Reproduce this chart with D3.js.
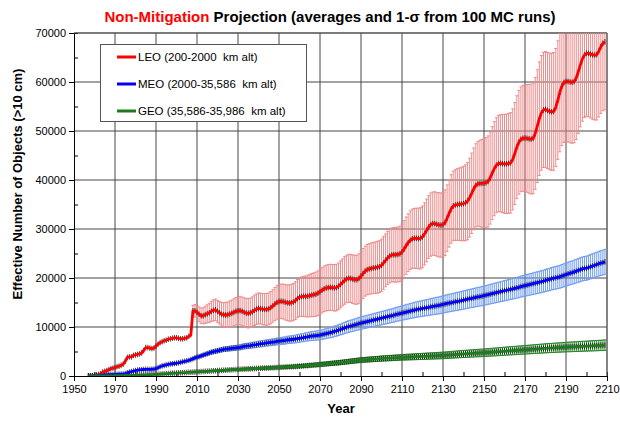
<!DOCTYPE html>
<html><head><meta charset="utf-8">
<script src="https://cdn.jsdelivr.net/npm/d3@7"></script>
<style>body{margin:0;background:#fff} svg{display:block;font-family:"Liberation Sans",Arial,sans-serif}</style>
</head><body><svg id="c" width="620" height="421"></svg>
<script>
const startYear = 1957;
const projStart = 2008;

const leoMean = [
0,20,60,120,200,300,450,800,950,1100,
1300,1500,1600,1700,1900,2000,2200,2400,3000,3800,
3900,3900,4200,4300,4400,4500,4700,5200,5800,5800,
5700,5600,5700,6100,6500,6800,7000,7200,7300,7500,
7600,7700,7800,7800,7700,7600,7600,7700,7800,8100,
8400,13300,13300,13000,12600,12300,12300,12500,12700,12900,
13200,13400,13500,13200,12900,12600,12500,12450,12500,12650,
12800,13000,13200,13300,13350,13200,13000,12850,12800,12900,
13100,13400,13650,13800,13750,13650,13600,13600,13700,13950,
14300,14700,15000,15200,15250,15200,15050,14950,14900,14950,
15100,15400,15800,16100,16200,16250,16250,16300,16400,16500,
16600,16700,16900,17200,17500,17800,17950,18050,18100,18050,
18000,18050,18300,18700,19100,19500,19800,19950,19900,19750,
19650,19650,19900,20400,20900,21400,21700,21850,21950,22050,
22100,22200,22300,22600,23100,23600,24100,24500,24700,24750,
24750,24800,24950,25300,25900,26600,27200,27700,28000,28100,
28100,28050,28100,28400,29000,29700,30400,30900,31100,31100,
30950,30850,30800,30900,31300,32200,33200,34100,34700,34900,
35000,35050,35100,35200,35350,35700,36400,37300,38200,38900,
39200,39300,39300,39350,39450,39700,40400,41400,42300,43000,
43350,43400,43350,43300,43300,43400,43500,44200,45400,46700,
47700,48300,48500,48550,48500,48400,48350,48500,49500,51000,
52500,53700,54300,54400,54200,54000,53900,54000,54800,56300,
57900,59200,59900,60100,60100,60000,59950,60100,60800,62100,
63500,64700,65500,65850,65850,65700,65550,65500,65600,66300,
67200,67900,68200];

const leoSigma = [
1100,1300,1400,1500,1550,1650,1750,1850,1950,2050,
2150,2200,2250,2300,2400,2450,2550,2600,2650,2700,
2750,2800,2850,2900,2900,2950,2950,3000,3000,3050,
3100,3100,3150,3150,3200,3200,3250,3250,3300,3300,
3350,3400,3450,3500,3550,3600,3650,3700,3750,3800,
3850,3900,3950,4000,4100,4150,4250,4300,4400,4450,
4500,4550,4600,4600,4650,4650,4700,4700,4700,4750,
4750,4750,4800,4800,4850,4850,4900,4900,4950,5000,
5000,5050,5050,5100,5100,5150,5150,5200,5200,5250,
5300,5300,5350,5400,5400,5450,5500,5500,5550,5600,
5600,5650,5700,5800,5850,5900,6000,6050,6100,6150,
6200,6250,6300,6350,6400,6400,6450,6450,6500,6500,
6550,6550,6600,6700,6800,6900,7000,7100,7200,7300,
7400,7500,7600,7750,7900,8050,8200,8350,8500,8650,
8800,8950,9100,9200,9300,9400,9500,9600,9700,9800,
9900,10000,10100,10150,10200,10250,10300,10400,10500,10600,
10700,10800,10900,11000,11100,11200,11300,11400,11500,11600,
11700,11750,11800,11850,11900,11950,12000,12050,12100,12150,
12200,12250,12300,12350,12400,12450,12500,12550,12600,12650,
12700,12750,12850,12950,13050,13150,13250,13350,13450,13600,
13750,13900];

const meoMean = [
0,20,40,60,80,100,150,200,220,240,
260,280,300,320,340,360,380,400,500,650,
800,900,1000,1100,1200,1250,1300,1330,1350,1350,
1350,1380,1400,1500,1700,1900,2050,2150,2250,2350,
2450,2500,2550,2600,2700,2800,2900,3000,3100,3200,
3350,3500,3700,3850,3950,4100,4250,4400,4550,4700,
4850,4950,5050,5150,5250,5350,5450,5500,5550,5600,
5650,5700,5750,5800,5850,5950,6050,6100,6150,6200,
6300,6350,6400,6500,6550,6600,6650,6750,6800,6850,
6900,6950,7050,7100,7150,7200,7250,7350,7400,7450,
7500,7550,7650,7700,7800,7850,7950,8000,8100,8150,
8200,8250,8300,8350,8450,8550,8650,8750,8850,8950,
9100,9200,9350,9500,9650,9800,9950,10100,10200,10300,
10450,10550,10700,10800,10900,11000,11100,11200,11300,11400,
11500,11600,11700,11800,11900,12000,12100,12200,12300,12400,
12550,12650,12750,12850,12950,13050,13150,13250,13350,13450,
13550,13650,13700,13800,13850,13950,14000,14100,14200,14250,
14350,14400,14500,14600,14700,14800,14900,14950,15050,15150,
15250,15300,15400,15500,15600,15700,15800,15850,15950,16050,
16150,16200,16300,16400,16500,16600,16700,16800,16900,17000,
17100,17200,17300,17400,17500,17600,17700,17800,17900,18000,
18100,18250,18350,18450,18550,18650,18750,18850,18950,19050,
19150,19250,19350,19500,19600,19700,19850,19950,20050,20150,
20250,20400,20550,20700,20850,21000,21100,21250,21400,21550,
21700,21850,21950,22000,22150,22300,22450,22600,22750,22900,
23050,23150,23300];

const meoSigma = [
200,220,240,260,280,300,320,340,360,380,
390,400,410,420,430,440,450,460,470,480,
490,500,510,520,530,540,550,560,570,580,
590,600,610,620,630,640,650,660,670,680,
690,700,710,720,730,740,750,760,770,780,
790,800,815,830,845,860,875,890,905,920,
935,950,965,980,995,1010,1025,1040,1055,1070,
1085,1100,1115,1130,1145,1160,1175,1190,1205,1220,
1235,1250,1260,1270,1280,1290,1300,1310,1320,1330,
1340,1350,1360,1370,1380,1390,1400,1410,1420,1430,
1440,1450,1465,1480,1495,1510,1525,1540,1555,1570,
1585,1600,1615,1630,1645,1660,1675,1690,1705,1720,
1735,1750,1760,1770,1780,1790,1800,1810,1820,1830,
1840,1850,1860,1870,1880,1890,1900,1910,1920,1930,
1940,1950,1960,1970,1980,1990,2000,2010,2020,2030,
2040,2050,2060,2070,2080,2090,2100,2110,2120,2130,
2140,2150,2160,2170,2180,2190,2200,2210,2220,2230,
2240,2250,2260,2270,2280,2290,2300,2310,2320,2330,
2340,2350,2360,2370,2380,2390,2400,2410,2420,2430,
2440,2450,2460,2470,2480,2490,2500,2510,2520,2530,
2540,2550];

const geoMean = [
0,0,0,0,0,0,5,10,15,20,
30,35,40,50,60,70,80,90,100,110,
120,130,140,150,165,180,200,220,240,260,
280,300,315,330,350,380,410,440,470,500,
530,560,580,600,630,650,670,700,720,750,
770,790,820,850,870,900,920,950,970,1000,
1020,1050,1070,1100,1120,1150,1170,1200,1220,1250,
1270,1300,1320,1350,1370,1390,1410,1430,1450,1470,
1490,1510,1530,1550,1570,1590,1610,1630,1650,1670,
1690,1710,1730,1750,1770,1790,1820,1840,1870,1890,
1920,1940,1970,2000,2030,2060,2100,2130,2170,2200,
2240,2270,2310,2350,2390,2430,2470,2510,2550,2590,
2630,2670,2710,2750,2800,2850,2900,2950,3000,3050,
3100,3150,3200,3250,3280,3310,3340,3370,3400,3430,
3460,3490,3520,3550,3580,3600,3630,3650,3680,3700,
3730,3750,3780,3800,3820,3840,3860,3880,3900,3920,
3940,3960,3980,4000,4020,4040,4060,4080,4100,4120,
4140,4160,4180,4200,4230,4260,4290,4320,4350,4380,
4410,4440,4470,4500,4520,4550,4570,4600,4620,4650,
4670,4700,4720,4750,4780,4810,4840,4870,4900,4930,
4960,4990,5020,5050,5080,5110,5140,5170,5200,5230,
5260,5290,5320,5350,5380,5410,5440,5470,5500,5530,
5560,5590,5620,5650,5670,5700,5720,5750,5770,5800,
5820,5850,5870,5900,5920,5940,5960,5980,6000,6020,
6040,6060,6080,6100,6120,6140,6160,6180,6200,6220,
6250,6270,6300];

const geoSigma = [
60,65,70,75,80,85,90,95,100,105,
110,115,120,125,130,135,140,145,150,155,
160,165,170,175,180,185,190,195,200,205,
210,215,220,225,230,235,240,245,250,255,
260,265,270,275,280,285,290,295,300,305,
310,315,320,325,330,335,340,345,350,355,
360,365,370,375,380,385,390,395,400,405,
410,415,420,425,430,435,440,445,450,455,
460,465,470,475,480,485,490,495,500,505,
510,515,520,525,530,535,540,545,550,555,
560,565,570,575,580,585,590,595,600,605,
610,615,620,625,630,635,640,645,650,655,
660,665,670,675,680,685,690,695,700,705,
710,715,720,725,730,735,740,745,750,755,
760,765,770,775,780,785,790,795,800,805,
810,815,820,825,830,835,840,845,850,855,
860,865,870,875,880,885,890,895,900,905,
910,915,920,925,930,935,940,945,950,955,
960,965,970,975,980,985,990,995,1000,1005,
1010,1015,1020,1025,1030,1035,1040,1045,1050,1055,
1060,1065];

const seriesNames = ["LEO (200-2000  km alt)", "MEO (2000-35,586  km alt)", "GEO (35,586-35,986  km alt)"];
const xTickValues = d3.range(1950, 2211, 20);
const xMinorValues = d3.range(1960, 2210, 20);
const yTickValues = d3.range(0, 70001, 10000);
const yMinorValues = d3.range(5000, 70000, 10000);

const lineColors = ["#ff0000", "#0000ff", "#1e7a1e"];
const barColors = ["#ee8a8a", "#6e9cf0", "#2a862a"];

const svg = d3.select("#c");
const L = 74, R = 607, T = 33, B = 376;
const x = d3.scaleLinear().domain([1950, 2210]).range([L, R]);
const y = d3.scaleLinear().domain([0, 70000]).range([B, T]);
const years = d3.range(startYear, startYear + leoMean.length);

const series = [
  {mean: leoMean, sigma: leoSigma},
  {mean: meoMean, sigma: meoSigma},
  {mean: geoMean, sigma: geoSigma}
].map((s, i) => ({
  pts: years.map((yr, k) => ({yr, v: s.mean[k]})),
  err: s.sigma.map((sd, k) => ({yr: projStart + k, v: s.mean[projStart - startYear + k], sd})),
  color: lineColors[i], bar: barColors[i], name: seriesNames[i]
}));

// grid
const grid = svg.append("g");
grid.selectAll(".gx").data(xTickValues.slice(1)).join("line")
  .attr("x1", d => x(d)).attr("x2", d => x(d)).attr("y1", T).attr("y2", B)
  .attr("stroke", "#474747").attr("stroke-width", 1);
grid.selectAll(".gy").data(yTickValues.slice(1)).join("line")
  .attr("x1", L).attr("x2", R).attr("y1", d => y(d)).attr("y2", d => y(d))
  .attr("stroke", "#474747").attr("stroke-width", 1);

// axes
const xAxis = svg.append("g").attr("transform", `translate(0,${B})`)
  .call(d3.axisBottom(x).tickValues(xTickValues).tickFormat(d3.format("d")).tickSize(5).tickPadding(4));
const xMinor = svg.append("g").attr("transform", `translate(0,${B})`)
  .call(d3.axisBottom(x).tickValues(xMinorValues).tickFormat("").tickSize(-4));
const yAxis = svg.append("g").attr("transform", `translate(${L},0)`)
  .call(d3.axisLeft(y).tickValues(yTickValues).tickFormat(d3.format("d")).tickSize(5).tickPadding(3));
const yMinor = svg.append("g").attr("transform", `translate(${L},0)`)
  .call(d3.axisLeft(y).tickValues(yMinorValues).tickFormat("").tickSize(-4));
[xAxis, yAxis, xMinor, yMinor].forEach(g => {
  g.select(".domain").attr("stroke", "#000");
  g.selectAll(".tick line").attr("stroke", "#000");
  g.selectAll("text").attr("font-size", 11).attr("fill", "#000")
    .attr("font-family", '"Liberation Sans", Arial, sans-serif');
});
// top/right frame
svg.append("line").attr("x1", L).attr("x2", R).attr("y1", T).attr("y2", T).attr("stroke", "#555");
svg.append("line").attr("x1", R).attr("x2", R).attr("y1", T).attr("y2", B).attr("stroke", "#666");

// clip
svg.append("clipPath").attr("id", "clip").append("rect")
  .attr("x", L).attr("y", T).attr("width", R - L).attr("height", B - T);
const plot = svg.append("g").attr("clip-path", "url(#clip)");

// error bars
series.forEach(s => {
  const g = plot.append("g").attr("stroke", s.bar).attr("stroke-width", 1);
  g.selectAll(".v").data(s.err).join("line")
    .attr("x1", d => x(d.yr)).attr("x2", d => x(d.yr))
    .attr("y1", d => y(d.v - d.sd)).attr("y2", d => y(d.v + d.sd));
  g.selectAll(".ct").data(s.err).join("line")
    .attr("x1", d => x(d.yr) - 1.5).attr("x2", d => x(d.yr) + 1.5)
    .attr("y1", d => y(d.v + d.sd)).attr("y2", d => y(d.v + d.sd));
  g.selectAll(".cb").data(s.err).join("line")
    .attr("x1", d => x(d.yr) - 1.5).attr("x2", d => x(d.yr) + 1.5)
    .attr("y1", d => y(d.v - d.sd)).attr("y2", d => y(d.v - d.sd));
});

// markers
series.forEach(s => {
  plot.append("g").attr("stroke", "#111").attr("stroke-width", 0.8)
    .selectAll("line").data(s.pts).join("line")
    .attr("x1", d => x(d.yr)).attr("x2", d => x(d.yr))
    .attr("y1", d => y(d.v) - 2.8).attr("y2", d => y(d.v) + 2.8);
});
// lines
const line = d3.line().x(d => x(d.yr)).y(d => y(d.v));
series.forEach(s => {
  plot.append("path").datum(s.pts).attr("d", line)
    .attr("fill", "none").attr("stroke", s.color).attr("stroke-width", 2.8)
    .attr("stroke-linejoin", "round");
});

// legend
const lg = svg.append("g");
lg.append("rect").attr("x", 100.5).attr("y", 44.5).attr("width", 206).attr("height", 77)
  .attr("fill", "#fff").attr("stroke", "#555");
const ly = [57, 84, 111];
series.forEach((s, i) => {
  lg.append("line").attr("x1", 117).attr("x2", 136).attr("y1", ly[i]).attr("y2", ly[i])
    .attr("stroke", s.color).attr("stroke-width", 3);
  lg.append("text").attr("x", 138).attr("y", ly[i] + 4).attr("font-size", 11.5)
    .style("white-space", "pre").text(s.name);
});

// titles
const title = svg.append("text").attr("x", 330).attr("y", 22).attr("text-anchor", "middle")
  .attr("font-size", 15).attr("font-weight", "bold");
title.append("tspan").attr("fill", "#ff0000").text("Non-Mitigation");
title.append("tspan").attr("fill", "#000").text(" Projection (averages and 1-σ from 100 MC runs)");

svg.append("text").attr("x", 341).attr("y", 413).attr("text-anchor", "middle")
  .attr("font-size", 13).attr("font-weight", "bold").text("Year");
svg.append("text").attr("transform", "translate(22,184) rotate(-90)").attr("text-anchor", "middle")
  .attr("font-size", 13).attr("font-weight", "bold").text("Effective Number of Objects (>10 cm)");
</script></body></html>
